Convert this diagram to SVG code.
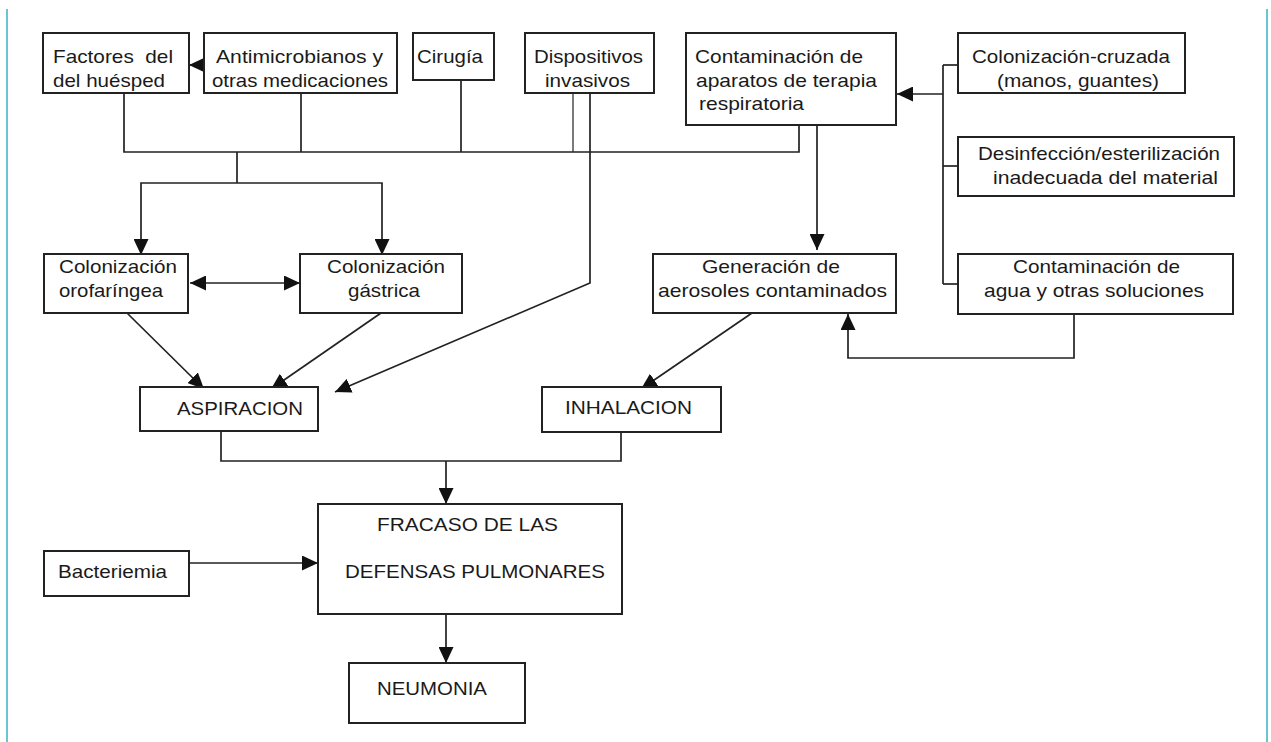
<svg xmlns="http://www.w3.org/2000/svg" width="1271" height="742" viewBox="0 0 1271 742">
<style>
.box{fill:#fff;stroke:#222;stroke-width:2}
.t{font-family:"Liberation Sans",Arial,sans-serif;font-size:19px;fill:#1a1a1a}
.c{fill:none;stroke:#222;stroke-width:1.7}
.a{fill:none;stroke:#222;stroke-width:1.7;marker-end:url(#ah)}
.border{stroke:#6cc3d6;stroke-width:2}
</style>
<defs>
<marker id="ah" markerUnits="userSpaceOnUse" markerWidth="17" markerHeight="15" refX="16" refY="7.5" orient="auto-start-reverse" viewBox="0 0 17 15">
<path d="M0,0 L16,7.5 L0,15 z" fill="#111"/>
</marker>
</defs>
<rect x="0" y="0" width="1271" height="742" fill="#fff"/>
<line class="border" x1="7" y1="9" x2="7" y2="742"/>
<line class="border" x1="1267" y1="9" x2="1267" y2="742"/>

<g id="connectors">
<line class="a" x1="204" y1="65" x2="189" y2="65"/>
<polyline class="c" points="124,93 124,152 799,152 799,125"/>
<line class="c" x1="301" y1="93" x2="301" y2="152"/>
<line class="c" x1="461" y1="80" x2="461" y2="152"/>
<line class="c" x1="573" y1="93" x2="573" y2="152" style="stroke-width:1.2"/>
<line class="c" x1="237" y1="152" x2="237" y2="183"/>
<polyline class="a" points="237,183 141,183 141,255"/>
<polyline class="a" points="237,183 382,183 382,255"/>
<line class="a" x1="190" y1="283" x2="300" y2="283" style="marker-start:url(#ah)"/>
<line class="a" x1="127" y1="313" x2="204" y2="389"/>
<line class="a" x1="381" y1="313" x2="271" y2="389"/>
<polyline class="a" points="590,93 590,283 335,392"/>
<line class="a" x1="817" y1="125" x2="817" y2="250"/>
<line class="c" x1="943" y1="65" x2="943" y2="284"/>
<line class="c" x1="943" y1="65" x2="958" y2="65"/>
<line class="c" x1="943" y1="166" x2="958" y2="166"/>
<line class="c" x1="943" y1="284" x2="958" y2="284"/>
<line class="a" x1="943" y1="94" x2="897" y2="94"/>
<polyline class="a" points="1074,314 1074,358 848,358 848,314"/>
<line class="a" x1="752" y1="313" x2="641" y2="389"/>
<polyline class="c" points="221,431 221,461 621,461 621,432"/>
<line class="a" x1="446" y1="461" x2="446" y2="504"/>
<line class="a" x1="189" y1="563" x2="318" y2="563"/>
<line class="a" x1="446" y1="614" x2="446" y2="663"/>
</g>

<g id="factores">
<rect class="box" x="43" y="33" width="146" height="60"/>
<text class="t" x="53" y="63" textLength="120" lengthAdjust="spacingAndGlyphs" xml:space="preserve">Factores  del</text>
<text class="t" x="53" y="87" textLength="112" lengthAdjust="spacingAndGlyphs">del huésped</text>
</g>
<g id="antimicrobianos">
<rect class="box" x="204" y="33" width="193" height="60"/>
<text class="t" x="216" y="63" textLength="167" lengthAdjust="spacingAndGlyphs">Antimicrobianos y</text>
<text class="t" x="212" y="87" textLength="176" lengthAdjust="spacingAndGlyphs">otras medicaciones</text>
</g>
<g id="cirugia">
<rect class="box" x="413" y="33" width="81" height="47"/>
<text class="t" x="417" y="63" textLength="66" lengthAdjust="spacingAndGlyphs">Cirugía</text>
</g>
<g id="dispositivos">
<rect class="box" x="525" y="33" width="129" height="60"/>
<text class="t" x="534" y="63" textLength="109" lengthAdjust="spacingAndGlyphs">Dispositivos</text>
<text class="t" x="545" y="87" textLength="85" lengthAdjust="spacingAndGlyphs">invasivos</text>
</g>
<g id="contaminacion-aparatos">
<rect class="box" x="686" y="33" width="210" height="92"/>
<text class="t" x="695" y="63" textLength="168" lengthAdjust="spacingAndGlyphs">Contaminación de</text>
<text class="t" x="696" y="87" textLength="181" lengthAdjust="spacingAndGlyphs">aparatos de terapia</text>
<text class="t" x="699" y="110" textLength="105" lengthAdjust="spacingAndGlyphs">respiratoria</text>
</g>
<g id="colonizacion-cruzada">
<rect class="box" x="958" y="33" width="227" height="60"/>
<text class="t" x="972" y="63" textLength="198" lengthAdjust="spacingAndGlyphs">Colonización-cruzada</text>
<text class="t" x="997" y="87" textLength="162" lengthAdjust="spacingAndGlyphs">(manos, guantes)</text>
</g>
<g id="desinfeccion">
<rect class="box" x="958" y="137" width="276" height="59"/>
<text class="t" x="978" y="160" textLength="242" lengthAdjust="spacingAndGlyphs">Desinfección/esterilización</text>
<text class="t" x="993" y="184" textLength="225" lengthAdjust="spacingAndGlyphs">inadecuada del material</text>
</g>
<g id="contaminacion-agua">
<rect class="box" x="958" y="254" width="275" height="60"/>
<text class="t" x="1013" y="273" textLength="167" lengthAdjust="spacingAndGlyphs">Contaminación de</text>
<text class="t" x="984" y="297" textLength="220" lengthAdjust="spacingAndGlyphs">agua y otras soluciones</text>
</g>
<g id="colonizacion-orofaringea">
<rect class="box" x="44" y="254" width="144" height="59"/>
<text class="t" x="59" y="273" textLength="118" lengthAdjust="spacingAndGlyphs">Colonización</text>
<text class="t" x="59" y="297" textLength="104" lengthAdjust="spacingAndGlyphs">orofaríngea</text>
</g>
<g id="colonizacion-gastrica">
<rect class="box" x="300" y="254" width="162" height="59"/>
<text class="t" x="327" y="273" textLength="118" lengthAdjust="spacingAndGlyphs">Colonización</text>
<text class="t" x="348" y="297" textLength="72" lengthAdjust="spacingAndGlyphs">gástrica</text>
</g>
<g id="generacion">
<rect class="box" x="653" y="254" width="243" height="59"/>
<text class="t" x="702" y="273" textLength="138" lengthAdjust="spacingAndGlyphs">Generación de</text>
<text class="t" x="658" y="297" textLength="229" lengthAdjust="spacingAndGlyphs">aerosoles contaminados</text>
</g>
<g id="aspiracion">
<rect class="box" x="140" y="387" width="178" height="44"/>
<text class="t" x="177" y="415" textLength="126" lengthAdjust="spacingAndGlyphs">ASPIRACION</text>
</g>
<g id="inhalacion">
<rect class="box" x="542" y="387" width="179" height="45"/>
<text class="t" x="565" y="414" textLength="127" lengthAdjust="spacingAndGlyphs">INHALACION</text>
</g>
<g id="fracaso">
<rect class="box" x="318" y="504" width="304" height="110"/>
<text class="t" x="377" y="531" textLength="181" lengthAdjust="spacingAndGlyphs">FRACASO DE LAS</text>
<text class="t" x="345" y="578" textLength="260" lengthAdjust="spacingAndGlyphs">DEFENSAS PULMONARES</text>
</g>
<g id="bacteriemia">
<rect class="box" x="44" y="551" width="145" height="45"/>
<text class="t" x="58" y="578" textLength="109" lengthAdjust="spacingAndGlyphs">Bacteriemia</text>
</g>
<g id="neumonia">
<rect class="box" x="349" y="663" width="176" height="60"/>
<text class="t" x="377" y="695" textLength="110" lengthAdjust="spacingAndGlyphs">NEUMONIA</text>
</g>
</svg>
